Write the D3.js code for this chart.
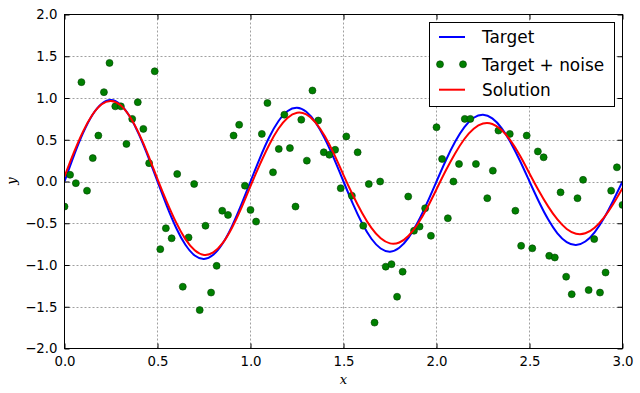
<!DOCTYPE html>
<html><head><meta charset="utf-8">
<script src="https://cdn.jsdelivr.net/npm/d3@7"></script>
<style>body{margin:0;background:#fff}svg{display:block}</style>
</head><body>
<script>
const xTicks = [0.0, 0.5, 1.0, 1.5, 2.0, 2.5, 3.0];
const yTicks = [-2.0, -1.5, -1.0, -0.5, 0.0, 0.5, 1.0, 1.5, 2.0];
const seriesNames = ["Target", "Target + noise", "Solution"];

const lineX = [0,0.05,0.1,0.15,0.2,0.25,0.3,0.35,0.4,0.45,0.5,0.55,0.6,0.65,0.7,0.75,0.8,0.85,0.9,0.95,
1,1.05,1.1,1.15,1.2,1.25,1.3,1.35,1.4,1.45,1.5,1.55,1.6,1.65,1.7,1.75,1.8,1.85,1.9,1.95,
2,2.05,2.1,2.15,2.2,2.25,2.3,2.35,2.4,2.45,2.5,2.55,2.6,2.65,2.7,2.75,2.8,2.85,2.9,2.95,3];

const targetY = [0,0.307,0.582,0.797,0.932,0.975,0.923,0.781,0.565,0.295,
0,-0.292,-0.554,-0.758,-0.887,-0.928,-0.878,-0.743,-0.537,-0.281,
0,0.278,0.527,0.721,0.844,0.883,0.835,0.707,0.511,0.267,
0,-0.265,-0.501,-0.686,-0.802,-0.840,-0.794,-0.672,-0.486,-0.254,
0,0.252,0.476,0.652,0.763,0.799,0.756,0.640,0.462,0.242,
0,-0.239,-0.453,-0.621,-0.726,-0.760,-0.719,-0.608,-0.440,-0.230,0];

const solutionY = [0.059,0.345,0.600,0.799,0.925,0.965,0.916,0.782,0.576,0.317,
0.029,-0.243,-0.490,-0.690,-0.824,-0.879,-0.849,-0.739,-0.556,-0.321,
-0.055,0.203,0.438,0.631,0.763,0.823,0.803,0.706,0.541,0.325,
0.077,-0.161,-0.376,-0.555,-0.680,-0.741,-0.730,-0.649,-0.506,-0.315,
-0.093,0.131,0.336,0.509,0.632,0.694,0.689,0.616,0.484,0.305,
0.096,-0.111,-0.298,-0.455,-0.568,-0.625,-0.620,-0.554,-0.433,-0.269,-0.079];

const noiseX = [0,0.030,0.061,0.091,0.121,0.152,0.182,0.212,0.242,0.273,
0.303,0.333,0.364,0.394,0.424,0.455,0.485,0.515,0.545,0.576,
0.606,0.636,0.667,0.697,0.727,0.758,0.788,0.818,0.848,0.879,
0.909,0.939,0.970,1.000,1.030,1.061,1.091,1.121,1.152,1.182,
1.212,1.242,1.273,1.303,1.333,1.364,1.394,1.424,1.455,1.485,
1.515,1.545,1.576,1.606,1.636,1.667,1.697,1.727,1.758,1.788,
1.818,1.848,1.879,1.909,1.939,1.970,2.000,2.030,2.061,2.091,
2.121,2.152,2.182,2.212,2.242,2.273,2.303,2.333,2.364,2.394,
2.424,2.455,2.485,2.515,2.545,2.576,2.606,2.636,2.667,2.697,
2.727,2.758,2.788,2.818,2.848,2.879,2.909,2.939,2.970,3.000];

const noiseY = [-0.30,0.08,-0.02,1.19,-0.11,0.28,0.55,1.07,1.42,0.90,
0.90,0.45,0.75,0.95,0.63,0.22,1.32,-0.81,-0.56,-0.68,
0.09,-1.26,-0.67,-0.03,-1.54,-0.53,-1.33,-1.01,-0.35,-0.40,
0.55,0.68,-0.05,-0.34,-0.48,0.57,0.94,0.11,0.39,0.80,
0.40,-0.30,0.74,0.25,1.09,0.73,0.35,0.32,0.38,-0.08,
0.54,-0.17,0.35,-0.53,-0.03,-1.69,0.00,-1.02,-0.99,-1.38,
-1.08,-0.18,-0.59,-0.54,-0.32,-0.65,0.65,0.27,-0.44,0.00,
0.21,0.75,0.75,0.21,1.20,-0.20,0.13,0.61,1.00,0.57,
-0.35,-0.77,0.55,-0.80,0.36,0.29,-0.89,-0.91,-0.13,-1.14,
-1.35,-0.20,0.02,-1.30,-0.69,-1.33,-1.09,-0.11,0.17,-0.28];

const W = 640, H = 393;
const L = 64.5, R = 622.5, T = 14.5, B = 348.5;
const svg = d3.select("body").append("svg").attr("width", W).attr("height", H);
const x = d3.scaleLinear().domain([0, 3]).range([L, R]);
const y = d3.scaleLinear().domain([-2, 2]).range([B, T]);

svg.append("defs").append("clipPath").attr("id", "clip")
  .append("rect").attr("x", L).attr("y", T).attr("width", R - L).attr("height", B - T);

// grid
const grid = svg.append("g");
grid.selectAll(".gx").data(xTicks.slice(1, -1)).join("line")
  .attr("x1", d => x(d)).attr("x2", d => x(d)).attr("y1", T).attr("y2", B)
  .attr("stroke", "#a0a0a0").attr("stroke-width", 1).attr("stroke-dasharray", "2,2");
grid.selectAll(".gy").data(yTicks.slice(1, -1)).join("line")
  .attr("y1", d => Math.round(y(d)) + 0.5).attr("y2", d => Math.round(y(d)) + 0.5).attr("x1", L).attr("x2", R)
  .attr("stroke", "#a0a0a0").attr("stroke-width", 1).attr("stroke-dasharray", "2,2");

const plot = svg.append("g").attr("clip-path", "url(#clip)");
const line = d3.line().x((d, i) => x(lineX[i])).y(d => y(d)).curve(d3.curveNatural);

plot.append("path").attr("d", line(targetY)).attr("fill", "none")
  .attr("stroke", "#0000ff").attr("stroke-width", 2);
plot.selectAll("circle").data(noiseY).join("circle")
  .attr("cx", (d, i) => x(noiseX[i])).attr("cy", d => y(d)).attr("r", 3.5)
  .attr("fill", "#008000").attr("stroke", "#004000").attr("stroke-width", 0.6);
plot.append("path").attr("d", line(solutionY)).attr("fill", "none")
  .attr("stroke", "#ff0000").attr("stroke-width", 2);

// axes (ticks inside, on all sides)
const tickLen = 5;
const fmt = d3.format(".1f");
const axB = d3.axisBottom(x).tickValues(xTicks).tickSize(-tickLen).tickPadding(8).tickFormat(fmt);
const axT = d3.axisTop(x).tickValues(xTicks).tickSize(-tickLen).tickFormat("");
const axL = d3.axisLeft(y).tickValues(yTicks).tickSize(-tickLen).tickPadding(7).tickFormat(fmt);
const axR = d3.axisRight(y).tickValues(yTicks).tickSize(-tickLen).tickFormat("");
function style(g) {
  g.select(".domain").remove();
  g.selectAll("line").attr("stroke", "#000").attr("stroke-width", 1);
  g.selectAll("text").attr("fill", "#000").attr("font-family", "DejaVu Sans").attr("font-size", "13.3px");
}
svg.append("g").attr("transform", `translate(0,${B})`).call(axB).call(style);
svg.append("g").attr("transform", `translate(0,${T})`).call(axT).call(style);
svg.append("g").attr("transform", `translate(${L},0)`).call(axL).call(style);
svg.append("g").attr("transform", `translate(${R},0)`).call(axR).call(style);

svg.append("rect").attr("x", L).attr("y", T).attr("width", R - L).attr("height", B - T)
  .attr("fill", "none").attr("stroke", "#000").attr("stroke-width", 1);

// axis labels
svg.append("text").attr("x", (L + R) / 2).attr("y", 384).attr("text-anchor", "middle")
  .attr("font-family", "DejaVu Serif").attr("font-style", "italic").attr("font-size", "13px").text("x");
svg.append("text").attr("transform", "translate(16,181) rotate(-90)").attr("text-anchor", "middle")
  .attr("font-family", "DejaVu Serif").attr("font-style", "italic").attr("font-size", "13px").text("y");

// legend
const lg = svg.append("g");
lg.append("rect").attr("x", 429.5).attr("y", 22.5).attr("width", 185).attr("height", 84)
  .attr("fill", "#fff").attr("stroke", "#000").attr("stroke-width", 1);
const rows = [37, 64.3, 89.7];
const colors = ["#0000ff", "#008000", "#ff0000"];
seriesNames.forEach((name, i) => {
  if (i === 1) {
    [440, 463].forEach(cx => lg.append("circle").attr("cx", cx).attr("cy", rows[i]).attr("r", 3.5)
      .attr("fill", "#008000").attr("stroke", "#004000").attr("stroke-width", 0.6));
  } else {
    lg.append("line").attr("x1", 439).attr("x2", 465).attr("y1", rows[i]).attr("y2", rows[i])
      .attr("stroke", colors[i]).attr("stroke-width", 2);
  }
  lg.append("text").attr("x", 482).attr("y", rows[i] + 6.3)
    .attr("font-family", "DejaVu Sans").attr("font-size", "16.9px").attr("fill", "#000").text(name);
});
</script>
</body></html>
